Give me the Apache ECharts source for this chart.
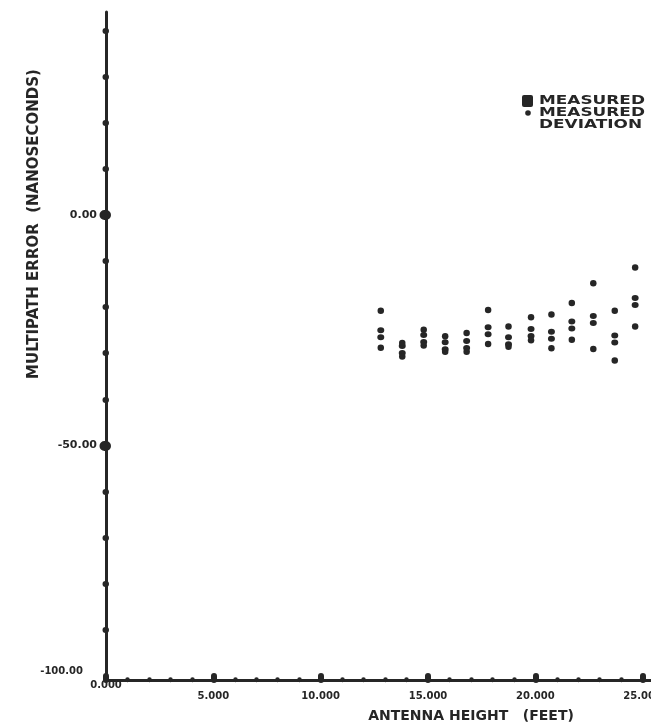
<!DOCTYPE html>
<html>
<head>
<meta charset="utf-8">
<script src="https://cdn.jsdelivr.net/npm/echarts@6/dist/echarts.min.js"></script>
<style>
  html, body { margin: 0; padding: 0; background: #ffffff; }
  #chart { width: 651px; height: 727px; }
</style>
</head>
<body>
<div id="chart"></div>
<script>
// Antenna heights (feet) at which multipath error was measured
const heights = [12.8, 13.8, 14.8, 15.8, 16.8, 17.8, 18.75, 19.8, 20.75, 21.7, 22.7, 23.7, 24.65];
// Measured mean multipath error (nanoseconds)
const meanError = [-25.8, -29.2, -26.8, -28.4, -28.1, -25.1, -27.3, -25.5, -26.1, -23.9, -22.7, -26.9, -18.8];
// Mean plus / minus one measured standard deviation (nanoseconds)
const upperDev = [-20.8, -27.8, -24.9, -26.3, -25.6, -20.6, -24.2, -22.2, -21.6, -19.1, -14.8, -20.8, -11.4];
const lowerDev = [-28.8, -30.7, -28.3, -29.7, -29.7, -28.0, -28.6, -27.2, -28.9, -27.1, -29.1, -31.6, -24.2];

// Axis tick values
const yMajorTicks = [-100, -50, 0];
const yMinorTicks = [-90, -80, -70, -60, -40, -30, -20, -10, 10, 20, 30, 40];
const xInterval = 5;

const ink = '#262626';
const labelFont = 'DejaVu Sans';

const meanPoints = heights.map((h, i) => [h, meanError[i]]);
const devPoints = heights.map((h, i) => [h, upperDev[i]])
  .concat(heights.map((h, i) => [h, lowerDev[i]]));

const chart = echarts.init(document.getElementById('chart'), null, { renderer: 'canvas' });

chart.setOption({
  backgroundColor: '#ffffff',
  animation: false,
  grid: { left: 106, right: -99, top: 12, bottom: 51, outerBoundsMode: 'none' },
  xAxis: [{
    type: 'value',
    min: 0, max: 30, interval: xInterval,
    position: 'bottom',
    offset: 4,
    splitLine: { show: false },
    axisLine: { onZero: false, lineStyle: { color: ink, width: 3, cap: 'round' } },
    axisTick: { inside: true, length: 4, lineStyle: { color: ink, width: 6, cap: 'round' } },
    minorTick: { show: true, splitNumber: 5, length: 0.5, lineStyle: { color: ink, width: 4.5, cap: 'round' } },
    axisLabel: {
      margin: 16,
      verticalAlign: 'middle',
      color: ink,
      fontFamily: labelFont,
      fontWeight: 'bold',
      fontSize: 10,
      formatter: v => v === 0 ? '{z|' + v.toFixed(3) + '}' : v.toFixed(3),
      rich: {
        z: { padding: [0, 0, 22, 0], color: ink, fontFamily: labelFont, fontWeight: 'bold', fontSize: 10 }
      }
    }
  }],
  yAxis: [{
    type: 'value',
    min: -100, max: 44, interval: 50,
    position: 'left',
    splitLine: { show: false },
    axisLine: { onZero: false, lineStyle: { color: ink, width: 3, cap: 'round' } },
    axisTick: { customValues: [-50, 0], length: 1.5, lineStyle: { color: ink, width: 10, cap: 'round' } },
    axisLabel: {
      customValues: yMajorTicks,
      margin: 9,
      color: ink,
      fontFamily: labelFont,
      fontWeight: 'bold',
      fontSize: 11,
      formatter: v => v === -100 ? '{c|' + v.toFixed(2) + '}' : v.toFixed(2),
      rich: {
        c: { padding: [0, 14, 10, 0], color: ink, fontFamily: labelFont, fontWeight: 'bold', fontSize: 10 }
      }
    }
  }, {
    type: 'value',
    min: -100, max: 44,
    position: 'left',
    offset: 0,
    splitLine: { show: false },
    axisLine: { show: false, onZero: false },
    axisTick: { customValues: yMinorTicks, length: 0.5, lineStyle: { color: ink, width: 6, cap: 'round' } },
    axisLabel: { show: false }
  }],
  series: [{
    name: 'MEASURED MEAN',
    type: 'scatter',
    data: meanPoints,
    symbol: 'path://M0,3a3,3 0 1,0 6,0a3,3 0 1,0 -6,0zM0,10a3,3 0 1,0 6,0a3,3 0 1,0 -6,0z',
    symbolSize: [7, 13],
    itemStyle: { color: ink, opacity: 1 }
  }, {
    name: 'MEASURED STANDARD DEVIATION',
    type: 'scatter',
    data: devPoints,
    symbol: 'circle',
    symbolSize: 6.5,
    itemStyle: { color: ink, opacity: 1 }
  }],
  graphic: [
    // key
    { type: 'rect', left: 522, top: 95, shape: { width: 11, height: 12, r: 2 }, style: { fill: ink } },
    { type: 'circle', shape: { cx: 528, cy: 113, r: 2.8 }, style: { fill: ink } },
    { type: 'text', x: 539, y: 101, scaleX: 1.3, style: { text: 'MEASURED MEAN', fill: ink, font: 'bold 13px "DejaVu Sans"', verticalAlign: 'middle' } },
    { type: 'text', x: 539, y: 113, scaleX: 1.3, style: { text: 'MEASURED STANDARD', fill: ink, font: 'bold 13px "DejaVu Sans"', verticalAlign: 'middle' } },
    { type: 'text', x: 539, y: 125, scaleX: 1.3, style: { text: 'DEVIATION', fill: ink, font: 'bold 13px "DejaVu Sans"', verticalAlign: 'middle' } },
    // axis titles
    { type: 'text', x: 34, y: 224, rotation: Math.PI / 2,
      style: { text: 'MULTIPATH ERROR  (NANOSECONDS)', fill: ink, font: 'bold 15px "DejaVu Sans"', align: 'center', verticalAlign: 'middle' } },
    { type: 'text', x: 471, y: 716,
      style: { text: 'ANTENNA HEIGHT   (FEET)', fill: ink, font: 'bold 14px "DejaVu Sans"', align: 'center', verticalAlign: 'middle' } }
  ]
});
</script>
</body>
</html>
